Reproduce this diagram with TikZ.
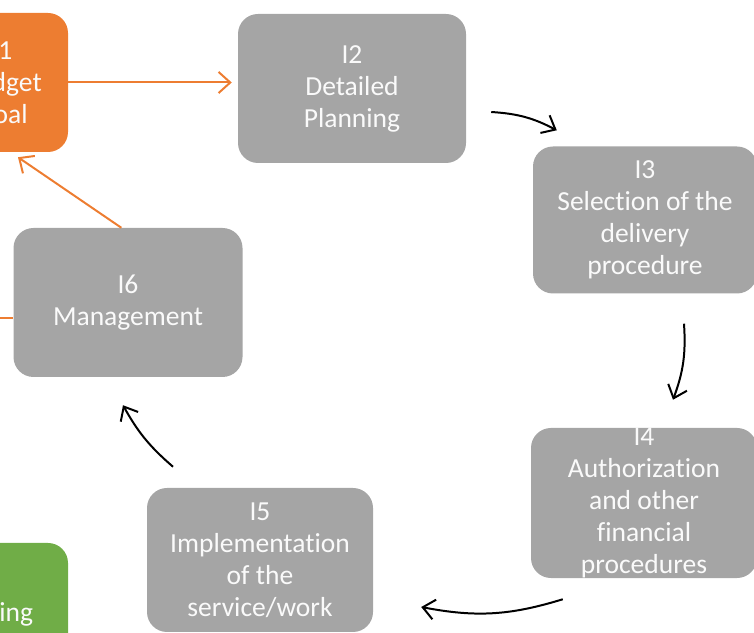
\documentclass[tikz,border=0pt]{standalone}
\usepackage{fontspec}
\setmainfont{Carlito}[Ligatures=CommonOff]
\usetikzlibrary{arrows.meta}

\definecolor{stagegray}{RGB}{165,165,165}
\definecolor{stageorange}{RGB}{237,125,49}
\definecolor{stagegreen}{RGB}{112,173,71}

\tikzset{
  stage/.style={fill=stagegray, text=white!95!stagegray, rounded corners=0.6cm, align=center,
    inner sep=0pt, font=\fontsize{23.5}{27.3}\selectfont},
  cyc/.style={black, line width=1.7pt, -{Straight Barb[length=10pt,width=17pt]}},
  oline/.style={stageorange, line width=1.7pt},
  oarr/.style={oline, -{Straight Barb[length=10pt,width=18pt]}},
}

\begin{document}
\begin{tikzpicture}

\useasboundingbox (0,0) rectangle (22.62,18.99);
\clip (0,0) rectangle (22.62,18.99);

% stages
\node[stage, fill=stageorange, minimum width=3.96cm, minimum height=4.17cm] (i1) at (0.06,16.515) {I1\\Budget\\Goal};
\node[stage, minimum width=6.84cm, minimum height=4.47cm] (i2) at (10.56,16.335) {I2\\Detailed\\Planning};
\node[stage, minimum width=6.72cm, minimum height=4.41cm] (i3) at (19.35,12.39) {I3\\Selection of the\\delivery\\procedure};
\node[stage, minimum width=6.78cm, minimum height=4.44cm] (i4) at (19.32,3.9) {I4\\Authorization\\and other\\financial\\procedures};
\node[stage, minimum width=6.78cm, minimum height=4.32cm] (i5) at (7.8,2.19) {I5\\Implementation\\of the\\service/work};
\node[stage, minimum width=6.87cm, minimum height=4.47cm] (i6) at (3.84,9.915) {I6\\Management};
\node[stage, fill=stagegreen, minimum width=4.98cm, minimum height=4.2cm] (p1) at (-0.45,0.6) {P1\\Planning\\review};

% orange links
\draw[oarr, shorten >=0.18cm] (i1.east) -- (i1.east -| i2.west);
\draw[oarr] ([xshift=-0.2cm]i6.north) -- ([shift={(0.48,-0.15)}]i1.south);
\coordinate (lft) at (-0.1,9.45);
\draw[oline] (lft) -- (lft -| i6.west);

% cycle
\draw[cyc] ([shift={(0.75,-0.705)}]i2.east) to[bend left=12] ([shift={(0.72,0.48)}]i3.north west);
\draw[cyc] ([shift={(1.17,-0.9)}]i3.south) to[bend left=12] ([shift={(0.87,0.84)}]i4.north);
\draw[cyc] ([shift={(0.96,-0.63)}]i4.south west) to[bend left=14] ([shift={(1.44,-1.41)}]i5.east);
\draw[cyc] ([shift={(-2.61,0.63)}]i5.north) to[bend left=10] ([shift={(-0.15,-0.84)}]i6.south);

\end{tikzpicture}
\end{document}
